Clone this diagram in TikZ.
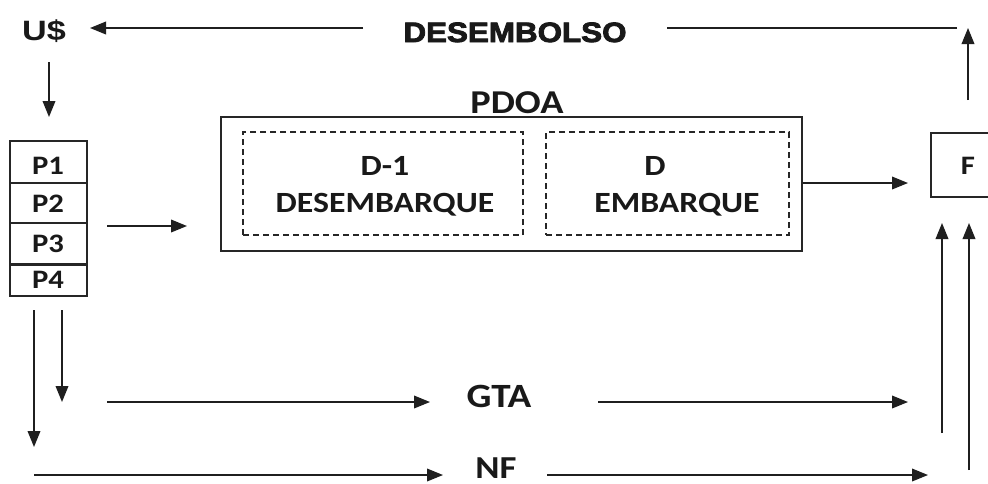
\documentclass[tikz,border=0pt]{standalone}
\usepackage{fontspec}
\usetikzlibrary{arrows.meta}
\newfontfamily\calb{Carlito}[FakeStretch=1.15]
\newfontfamily\arb{Liberation Sans}[UprightFont=* Bold, FakeStretch=1.22]
\newfontfamily\arblk{Liberation Sans}[UprightFont=* Bold, FakeStretch=1.12, FakeBold=3]
\begin{document}
\begin{tikzpicture}[x=0.75pt,y=-0.75pt,
  ink/.style={draw=black!88, line width=1.1pt},
  arr/.style={ink, -{Triangle[length=12pt,width=9.5pt]}},
  plain/.style={ink},
  txt/.style={anchor=base, inner sep=0pt, text=black!90},
  lbl/.style={txt, font=\calb\bfseries\fontsize{#1}{#1}\selectfont},
  pbox/.style={draw=black!85, line width=0.9pt, minimum width=57.75pt, inner sep=0pt},
  outerbox/.style={draw=black!85, line width=1.2pt, inner sep=0pt},
  dbox/.style={draw=black!85, line width=0.9pt, dash pattern=on 4.5pt off 3pt, inner sep=0pt}
]
\clip (0,0) rectangle (988,483);
\fill[white] (0,0) rectangle (988,483);

% top row
\node[txt, font=\arb\fontsize{21pt}{21pt}\selectfont] (us) at (44,40) {U\$};
\node[txt, font=\arblk\fontsize{21pt}{21pt}\selectfont] (des) at (515,42) {DESEMBOLSO};
\coordinate (topup0) at (968,100);
\coordinate (topup1) at (968,28);
\coordinate (toplR) at (957,28);
\coordinate (toplL) at (667,28);
\coordinate (topaR) at (363,28);
\coordinate (topaL) at (90,28);
\draw[arr] (topup0) -- (topup1);
\draw[plain] (toplR) -- (toplL);
\draw[arr] (topaR) -- (topaL);

% U$ down
\coordinate (usd0) at (49,62);
\coordinate (usd1) at (49,117);
\draw[arr] (usd0) -- (usd1);

% P stack
\node[pbox, minimum height=31.5pt] (p1) at (48.5,162) {};
\node[pbox, minimum height=30pt] (p2) at (48.5,203) {};
\node[pbox, minimum height=30.75pt] (p3) at (48.5,243.5) {};
\node[pbox, minimum height=24pt] (p4) at (48.5,280) {};
\draw[draw=black!85, line width=1.6pt] (p3.south west) -- (p3.south east);
\node[lbl=20pt] (p1t) at (48,174) {P1};
\node[lbl=20pt] (p2t) at (48,212) {P2};
\node[lbl=20pt] (p3t) at (48,252) {P3};
\node[lbl=20pt] (p4t) at (48,288) {P4};

\coordinate (pa0) at (107,226);
\coordinate (pa1) at (187,226);
\draw[arr] (pa0) -- (pa1);

% PDOA
\node[outerbox, minimum width=435.75pt, minimum height=100.5pt] (pdoa) at (511.5,184) {};
\node[lbl=25pt] (pdoat) at (517,113) {PDOA};
\node[dbox, minimum width=210pt, minimum height=77.25pt] (d1) at (383,183.5) {};
\node[dbox, minimum width=182.25pt, minimum height=77.25pt] (d2) at (667.5,183.5) {};
\node[lbl=22pt] (d1a) at (385,175) {D-1};
\node[lbl=22pt] (d1b) at (385,212) {DESEMBARQUE};
\node[lbl=22pt] (d2a) at (655,175) {D};
\node[lbl=22pt] (d2b) at (677,212) {EMBARQUE};

\coordinate (pf0) at (pdoa.east |- 0,183);
\coordinate (pf1) at (908,183);
\draw[arr] (pf0) -- (pf1);

% F
\node[outerbox, minimum width=51.75pt, minimum height=48pt] (F) at (965.5,165) {};
\node[lbl=20pt] (Ft) at (968,174) {F};

% up arrows into F
\coordinate (u1a) at (942,433);
\coordinate (u1b) at (942,223);
\coordinate (u2a) at (969,470);
\coordinate (u2b) at (969,223);
\draw[arr] (u1a) -- (u1b);
\draw[arr] (u2a) -- (u2b);

% left down arrows
\coordinate (l1a) at (34,310);
\coordinate (l1b) at (34,447);
\coordinate (l2a) at (62,310);
\coordinate (l2b) at (62,402);
\draw[arr] (l1a) -- (l1b);
\draw[arr] (l2a) -- (l2b);

% GTA row
\node[lbl=25.5pt] (gta) at (499,407) {GTA};
\coordinate (g0) at (107,402);
\coordinate (g1) at (430,402);
\coordinate (g2) at (598,402);
\coordinate (g3) at (908,402);
\draw[arr] (g0) -- (g1);
\draw[arr] (g2) -- (g3);

% NF row
\node[lbl=24pt] (nf) at (496,478) {NF};
\coordinate (n0) at (34,475);
\coordinate (n1) at (443,475);
\coordinate (n2) at (547,475);
\coordinate (n3) at (928,475);
\draw[arr] (n0) -- (n1);
\draw[arr] (n2) -- (n3);
\end{tikzpicture}
\end{document}
